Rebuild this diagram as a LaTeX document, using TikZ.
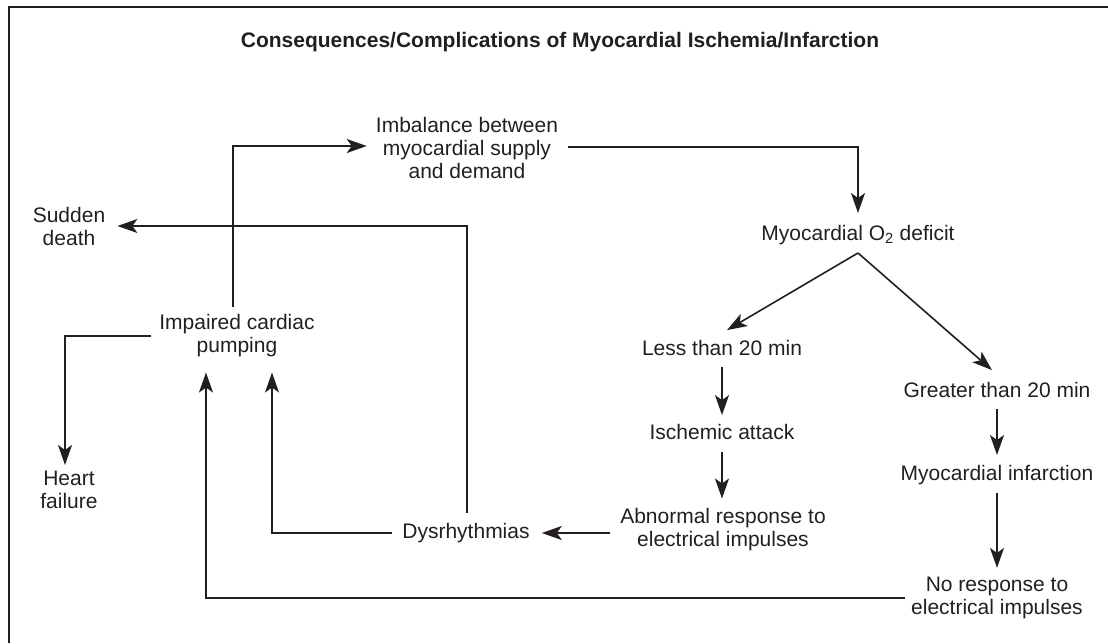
\documentclass[tikz,border=0pt]{standalone}
\usepackage{fontspec}
\setmainfont{Liberation Sans}
\usetikzlibrary{arrows.meta}
\definecolor{ink}{HTML}{231F20}
\begin{document}
\begin{tikzpicture}[x=1pt,y=-1pt,
  every node/.style={font=\fontsize{21}{23}\selectfont, text=ink, inner sep=0pt, align=center},
  arr/.style={draw=ink, line width=1.6pt, -{Stealth[length=20pt,width=14pt,inset=5pt]}},
  ln/.style={draw=ink, line width=1.6pt}]
\useasboundingbox (0,0) rectangle (1108,643);
\draw[ln, line width=1.4pt] (9,643) -- (9,7) -- (1108,7);
\node[font=\fontsize{21}{23}\selectfont\bfseries] (title) at (560,42) {Consequences/Complications of Myocardial Ischemia/Infarction};
\node (imb) at (467,148) {Imbalance between\\myocardial supply\\and demand};
\node (sud) at (69,226) {Sudden\\death};
\node (imp) at (237,336) {Impaired cardiac\\pumping};
\node (hf) at (69,490) {Heart\\failure};
\node (o2) at (858,235) {Myocardial O\textsubscript{2} deficit};
\node (less) at (722,348) {Less than 20 min};
\node (gr) at (997,390) {Greater than 20 min};
\node (isch) at (722,432) {Ischemic attack};
\node (mi) at (997,475) {Myocardial infarction};
\node (abn) at (723,530) {Abnormal response to\\electrical impulses};
\node (dys) at (466,533) {Dysrhythmias};
\node (nor) at (997,598) {No response to\\electrical impulses};
% connectors
\draw[arr, shorten <=8pt, shorten >=9pt] ([xshift=-4pt]imp.north) |- ([yshift=2pt]imb.west);
\draw[arr, shorten <=10pt, shorten >=12pt] ([xshift=1pt]dys.north) |- (sud.east);
\draw[arr, shorten <=8pt, shorten >=6pt] (imp.west) -| ([xshift=-4pt]hf.north);
\draw[arr, shorten <=6pt, shorten >=15pt] (nor.west) -| ([xshift=-31pt]imp.south);
\draw[arr, shorten <=10pt, shorten >=15pt] (dys.west) -| ([xshift=35pt]imp.south);
\draw[arr, shorten <=10pt, shorten >=12pt] (abn.west |- dys.east) -- (dys.east);
\draw[arr, shorten <=10pt, shorten >=12pt] ([yshift=1pt]imb.east) -| (o2.north);
\draw[arr] ([yshift=-8pt]o2.south) -- ([xshift=5pt,yshift=10pt]less.north);
\draw[arr] ([yshift=-8pt]o2.south) -- ([xshift=-5pt,yshift=12pt]gr.north);
\draw[arr, shorten <=11pt, shorten >=9pt] (less.south) -- (less.south |- isch.north);
\draw[arr, shorten <=12pt, shorten >=10pt] (isch.south) -- (isch.south |- abn.north);
\draw[arr, shorten <=11pt, shorten >=10pt] (gr.south) -- (gr.south |- mi.north);
\draw[arr, shorten <=8pt, shorten >=9pt] (mi.south) -- (mi.south |- nor.north);
\end{tikzpicture}
\end{document}
